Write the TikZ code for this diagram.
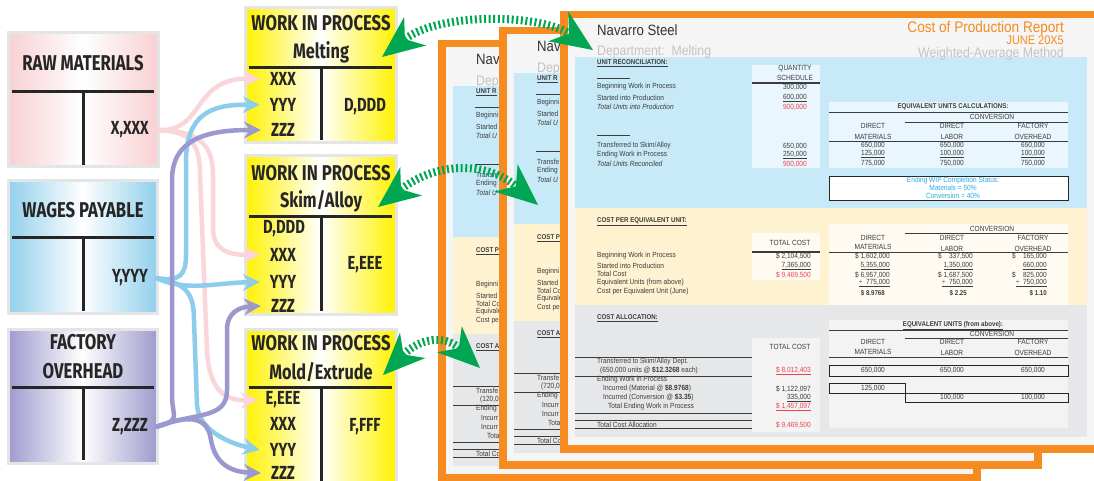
\documentclass[tikz,border=0pt]{standalone}
\usepackage{fontspec}
\setmainfont{Liberation Sans}
\newfontfamily\tfont{Fira Sans}[FakeStretch=0.78]
\newfontfamily\rfont{Liberation Sans}[FakeStretch=0.88]
\usetikzlibrary{arrows.meta}
\definecolor{rmpink}{RGB}{248,208,210}
\definecolor{rmline}{RGB}{250,214,218}
\definecolor{wpblue}{RGB}{146,208,236}
\definecolor{wpline}{RGB}{140,205,235}
\definecolor{fopurple}{RGB}{158,155,206}
\definecolor{foline}{RGB}{155,152,208}
\definecolor{wipyel}{RGB}{255,242,0}
\definecolor{boxedge}{RGB}{228,229,231}
\definecolor{grn}{RGB}{0,166,81}
\definecolor{org}{RGB}{246,139,31}
\definecolor{pagebg}{RGB}{245,245,245}
\definecolor{secblue}{RGB}{199,233,248}
\definecolor{seccream}{RGB}{255,242,208}
\definecolor{secgray}{RGB}{230,231,232}
\definecolor{colblue}{RGB}{234,246,253}
\definecolor{colcream}{RGB}{255,251,243}
\definecolor{colgray}{RGB}{243,243,243}
\definecolor{rtext}{RGB}{60,60,60}
\definecolor{rred}{RGB}{239,65,80}
\definecolor{rcyan}{RGB}{41,171,226}
\definecolor{hgray}{RGB}{195,195,195}
\tikzset{
  tline/.style={line width=3bp, draw=black!85},
  ttitle/.style={font=\tfont\bfseries\fontsize{21.5}{29}\selectfont, text=black!85, inner sep=0pt, align=center},
  tsub/.style={font=\tfont\bfseries\fontsize{21}{22}\selectfont, text=black!85, inner sep=0pt},
  tval/.style={font=\tfont\bfseries\fontsize{19}{20}\selectfont, text=black!85, inner sep=0pt},
  flow/.style={line width=4.5bp, -{Stealth[length=17bp,width=17bp,inset=6bp,line width=0pt]}},
  garrow/.style={draw=grn, line width=8bp, dash pattern=on 2bp off 2.6bp,
    {Stealth[length=42bp,width=36bp,inset=13bp,line width=0pt]}-{Stealth[length=42bp,width=36bp,inset=13bp,line width=0pt]}},
  rt/.style={font=\rfont\fontsize{7.5}{8}\selectfont, text=rtext, inner sep=0pt},
  rit/.style={font=\rfont\itshape\fontsize{7.5}{8}\selectfont},
  rbf/.style={font=\rfont\bfseries\fontsize{7}{8}\selectfont},
  lab/.style={rt, anchor=west},
  num/.style={rt, anchor=east},
  cen/.style={rt, anchor=center},
  rhead/.style={font=\rfont\fontsize{15}{16}\selectfont, inner sep=0pt},
  rsub/.style={font=\rfont\fontsize{14}{15}\selectfont, inner sep=0pt, text=hgray},
  rule/.style={draw=rtext, line width=0.9bp},
}
% #1 x, #2 y, #3 width
\newcommand\pageskel[3]{%
  \begin{scope}[shift={(#1,#2)}]
    \fill[org] (0,0) rectangle (#3,442);
    \fill[pagebg] (8,7) rectangle (#3-8,434);
    \fill[secblue] (15,46) rectangle (527,197);
    \fill[seccream] (15,197) rectangle (527,294);
    \fill[secgray] (15,294) rectangle (527,426);
    \draw[rule, line width=0.6bp] (37,67) -- (70,67) (37,124) -- (70,124);
    \draw[rule] (15,346) -- (192,346) (15,365) -- (192,365) (15,402) -- (192,402)
      (15,409) -- (192,409) (15,417) -- (192,417);
  \end{scope}}
\newcommand\stubs[3]{%
  \begin{scope}[shift={(#1,#2)}]
    \node[rhead, anchor=west, text=black!80] at (38,19) {Nav};
    \node[rsub, anchor=west] at (38,42) {Depa};
    \node[lab, rbf] at (38,52) {\underline{UNIT R}};
    \node[lab] at (38,76) {Beginni};
    \node[lab] at (38,87) {Started};
    \node[lab, rit] at (38,96) {Total U};
    \node[lab] at (38,135) {Transfe};
    \node[lab] at (38,144) {Ending};
    \node[lab, rit] at (38,153) {Total U};
    \node[lab, rbf] at (38,211) {\underline{COST P}};
    \node[lab] at (38,245) {Beginni};
    \node[lab] at (38,256) {Started};
    \node[lab] at (38,264) {Total Co};
    \node[lab] at (38,272) {Equivale};
    \node[lab] at (38,281) {Cost pe};
    \node[lab, rbf] at (38,307) {\underline{COST A}};
    \node[lab] at (38,351) {Transfe};
    \node[lab] at (42,360) {#3};
    \node[lab] at (38,369) {Ending};
    \node[lab] at (43,378) {Incurr};
    \node[lab] at (43,387) {Incurr};
    \node[lab] at (49,396) {Tota};
    \node[lab] at (38,414) {Total Co};
  \end{scope}}
\begin{document}
\begin{tikzpicture}[x=1bp, y=-1bp]
\useasboundingbox (0,0) rectangle (1094,481);
\clip (0,0) rectangle (1094,481);
\fill[white] (0,0) rectangle (1094,481);

% ---------- report pages ----------
\pageskel{438}{40}{543}
\stubs{438}{40}{(120,0}
\pageskel{499}{27}{543}
\stubs{499}{27}{(720,0}
\pageskel{560}{11}{570}

% page 3 header
\node[rhead, anchor=west, text=black!80] (p3name) at (597,30) {Navarro Steel};
\node[rsub, anchor=west] (p3dept) at (597,52) {Department:\ \ Melting};
\node[anchor=east, inner sep=0pt, text=org, font=\rfont\fontsize{15.5}{16}\selectfont] (p3title) at (1064,29) {Cost of Production Report};
\node[anchor=east, inner sep=0pt, text=org, font=\rfont\fontsize{12.5}{13}\selectfont] (p3date) at (1064,40.5) {JUNE 20X5};
\node[rsub, anchor=east] (p3meth) at (1064,54) {Weighted-Average Method};

% unit reconciliation
\fill[colblue] (752,65) rectangle (820,168);
\fill[colblue] (829,102) rectangle (1068,168);
\node[lab, rbf] at (597,63) {\underline{UNIT RECONCILIATION:}};
\draw[rule, line width=0.6bp] (597,78) -- (630,78) (597,135) -- (630,135);
\node[lab] at (597,87) {Beginning Work in Process};
\node[lab] at (597,98) {Started into Production};
\node[lab, rit] at (597,107) {Total Units into Production};
\node[lab] at (597,146) {Transferred to Skim/Alloy};
\node[lab] at (597,155) {Ending Work in Process};
\node[lab, rit] at (597,164) {Total Units Reconciled};
\node[cen] at (795,69) {QUANTITY};
\node[cen] at (795,78) {SCHEDULE};
\draw[rule, line width=1.3bp] (752,83) -- (820,83);
\node[num] at (807,87) {300,000};
\node[num] at (807,98) {\underline{600,000}};
\node[num, text=rred] at (807,107) {900,000};
\node[num] at (807,146) {650,000};
\node[num] at (807,155) {\underline{250,000}};
\node[num, text=rred] at (807,164) {900,000};
\node[cen, rbf] at (953,107) {EQUIVALENT UNITS CALCULATIONS:};
\draw[rule] (829,112) -- (1068,112) (905,122) -- (1068,122) (829,141) -- (1068,141);
\node[cen] at (992,117) {CONVERSION};
\node[cen] at (873,126) {DIRECT};
\node[cen] at (873,137) {MATERIALS};
\node[cen] at (952,126) {DIRECT};
\node[cen] at (952,137) {LABOR};
\node[cen] at (1033,126) {FACTORY};
\node[cen] at (1033,137) {OVERHEAD};
\node[cen] at (873,145) {650,000};
\node[cen] at (952,145) {650,000};
\node[cen] at (1033,145) {650,000};
\node[cen] at (873,154) {\underline{125,000}};
\node[cen] at (952,154) {\underline{100,000}};
\node[cen] at (1033,154) {\underline{100,000}};
\node[cen] at (873,163) {775,000};
\node[cen] at (952,163) {750,000};
\node[cen] at (1033,163) {750,000};
\draw[fill=white, line width=0.9bp, draw=black!85] (829,176) rectangle (1068,200);
\node[cen, text=rcyan] at (953,181) {Ending WIP Completion Status:};
\node[cen, text=rcyan] at (953,188) {Materials = 50\%};
\node[cen, text=rcyan] at (953,196) {Conversion = 40\%};

% cost per equivalent unit
\fill[colcream] (752,233) rectangle (820,280);
\fill[colcream] (829,224) rectangle (1068,305);
\node[lab, rbf] at (597,222) {\underline{COST PER EQUIVALENT UNIT:}};
\node[cen] at (790,243) {TOTAL COST};
\draw[rule, line width=1.3bp] (752,252) -- (820,252);
\node[lab] at (597,256) {Beginning Work in Process};
\node[lab] at (597,266) {Started into Production};
\node[lab] at (597,274) {Total Cost};
\node[lab] at (597,283) {Equivalent Units (from above)};
\node[lab] at (597,292) {Cost per Equivalent Unit (June)};
\node[num] at (811,256) {\$ 2,104,500};
\node[num] at (811,266) {\underline{7,365,000}};
\node[num, text=rred] at (811,275) {\$ 9,469,500};
\node[cen] at (992,229) {CONVERSION};
\draw[rule] (905,233) -- (1068,233) (829,252) -- (1068,252);
\node[cen] at (873,238) {DIRECT};
\node[cen] at (873,247) {MATERIALS};
\node[cen] at (952,238) {DIRECT};
\node[cen] at (952,249) {LABOR};
\node[cen] at (1033,238) {FACTORY};
\node[cen] at (1033,249) {OVERHEAD};
\node[num] at (890,256) {\$ 1,602,000};
\node[num] at (890,266) {\underline{5,355,000}};
\node[num] at (890,275) {\$ 6,957,000};
\node[num] at (890,283) {\underline{÷\ \ 775,000}};
\node[num, rbf] at (885,293) {\$ 8.9768};
\node[num] at (973,256) {\$\ \ \ \ 337,500};
\node[num] at (973,266) {\underline{1,350,000}};
\node[num] at (973,275) {\$ 1,687,500};
\node[num] at (973,283) {\underline{÷\ \ 750,000}};
\node[num, rbf] at (967,293) {\$ 2.25};
\node[num] at (1047,256) {\$\ \ \ \ 165,000};
\node[num] at (1047,266) {\underline{660,000}};
\node[num] at (1047,275) {\$\ \ \ \ 825,000};
\node[num] at (1047,283) {\underline{÷\ \ 750,000}};
\node[num, rbf] at (1047,293) {\$ 1.10};

% cost allocation
\fill[colgray] (752,338) rectangle (820,432);
\fill[colgray] (829,320) rectangle (1068,428);
\node[lab, rbf] at (597,318) {\underline{COST ALLOCATION:}};
\node[cen, rbf] at (953,326) {\underline{EQUIVALENT UNITS (from above):}};
\draw[rule] (829,330) -- (1068,330) (905,338) -- (1068,338) (829,357) -- (1068,357);
\node[cen] at (992,334) {CONVERSION};
\node[cen] at (873,342) {DIRECT};
\node[cen] at (873,352) {MATERIALS};
\node[cen] at (952,342) {DIRECT};
\node[cen] at (952,353) {LABOR};
\node[cen] at (1033,342) {FACTORY};
\node[cen] at (1033,353) {OVERHEAD};
\node[cen] at (790,347) {TOTAL COST};
\node[lab] at (597,362) {Transferred to Skim/Alloy Dept.};
\node[lab] at (600,371) {(650,000 units @ \textbf{\$12.3268} each)};
\node[lab] at (597,380) {Ending Work in Process};
\node[lab] at (603,389) {Incurred (Material @ \textbf{\$8.9768})};
\node[lab] at (603,398) {Incurred (Conversion @ \textbf{\$3.35})};
\node[lab] at (608,407) {Total Ending Work in Process};
\node[lab] at (597,425) {Total Cost Allocation};
\node[num, text=rred] at (811,371) {\underline{\$ 8,012,403}};
\node[num] at (811,389) {\$ 1,122,097};
\node[num] at (811,398) {\underline{335,000}};
\node[num, text=rred] at (811,407) {\underline{\$ 1,457,097}};
\node[num, text=rred] at (811,425) {\$ 9,469,500};
\draw[draw=black!85, line width=0.9bp] (829,365) rectangle (1068,376);
\node[cen] at (873,370) {650,000};
\node[cen] at (952,370) {650,000};
\node[cen] at (1033,370) {650,000};
\draw[draw=black!85, line width=0.9bp] (829,383) rectangle (905,393);
\draw[draw=black!85, line width=0.9bp] (905,393) rectangle (1068,402);
\node[cen] at (873,388) {125,000};
\node[cen] at (952,397) {100,000};
\node[cen] at (1033,397) {100,000};

% ---------- T-accounts ----------
\shadedraw[left color=rmpink, right color=rmpink, middle color=white, draw=boxedge, line width=3bp] (8,33) rectangle (158,167);
\node[ttitle] (rmT) at (83,63) {RAW MATERIALS};
\draw[tline] (12,92) -- (154,92) (83,92) -- (83,165);
\node[tval, anchor=east] (rmX) at (149,130) {X,XXX};

\shadedraw[left color=wpblue, right color=wpblue, middle color=white, draw=boxedge, line width=3bp] (8,181) rectangle (157,314);
\node[ttitle] (wpT) at (83,210) {WAGES PAYABLE};
\draw[tline] (12,238) -- (154,238) (83,238) -- (83,311);
\node[tval, anchor=east] (wpY) at (148,278) {Y,YYY};

\shadedraw[left color=fopurple, right color=fopurple, middle color=white, draw=boxedge, line width=3bp] (8,330) rectangle (157,463);
\node[ttitle] (foT) at (83,357) {FACTORY\\OVERHEAD};
\draw[tline] (12,387) -- (154,387) (83,387) -- (83,460);
\node[tval, anchor=east] (foZ) at (148,427) {Z,ZZZ};

% WIP Melting
\shadedraw[left color=wipyel, right color=wipyel, middle color=white, draw=boxedge, line width=3bp] (245,8) rectangle (396,143);
\node[ttitle] (m1) at (321,23) {WORK IN PROCESS};
\node[tsub] (m2) at (321,52) {Melting};
\draw[tline] (249,68) -- (392,68) (321,68) -- (321,140);
\node[tval] (mX) at (283,79) {XXX};
\node[tval] (mY) at (283,105) {YYY};
\node[tval] (mZ) at (283,130) {ZZZ};
\node[tval] (mD) at (365,107) {D,DDD};

% WIP Skim/Alloy
\shadedraw[left color=wipyel, right color=wipyel, middle color=white, draw=boxedge, line width=3bp] (245,156) rectangle (396,315);
\node[ttitle] (s1) at (321,173) {WORK IN PROCESS};
\node[tsub] (s2) at (321,201) {Skim/Alloy};
\draw[tline] (249,217) -- (392,217) (321,217) -- (321,311);
\node[tval] (sD) at (284,229) {D,DDD};
\node[tval] (sX) at (283,255) {XXX};
\node[tval] (sY) at (283,282) {YYY};
\node[tval] (sZ) at (283,306) {ZZZ};
\node[tval] (sE) at (365,265) {E,EEE};

% WIP Mold/Extrude
\shadedraw[left color=wipyel, right color=wipyel, middle color=white, draw=boxedge, line width=3bp] (245,330) rectangle (396,500);
\node[ttitle] (o1) at (321,343) {WORK IN PROCESS};
\node[tsub] (o2) at (321,372) {Mold/Extrude};
\draw[tline] (249,387) -- (392,387) (321,387) -- (321,495);
\node[tval] (oE) at (283,400) {E,EEE};
\node[tval] (oX) at (283,424) {XXX};
\node[tval] (oY) at (283,450) {YYY};
\node[tval] (oZ) at (283,473) {ZZZ};
\node[tval] (oF) at (365,427) {F,FFF};

% ---------- flows ----------
\draw[flow, rmline] ([xshift=8bp]rmX.east) .. controls (205,133) and (192,77) .. ([xshift=-10bp]mX.west);
\draw[flow, rmline] ([xshift=8bp]rmX.east) .. controls (200,131) and (213,145) .. (213,175) -- (213,228) .. controls (213,250) and (228,255) .. ([xshift=-10bp]sX.west);
\draw[flow, rmline] ([xshift=8bp]rmX.east) .. controls (192,131) and (200,145) .. (200,175) -- (207,350) .. controls (209,390) and (225,401) .. ([xshift=-8bp]oE.west);

\draw[flow, wpline] ([xshift=8bp]wpY.east) .. controls (180,282) and (186,275) .. (186,255) -- (186,160) .. controls (187,115) and (210,104) .. ([xshift=-10bp]mY.west);
\draw[flow, wpline] ([xshift=8bp]wpY.east) .. controls (188,292) and (212,283) .. ([xshift=-10bp]sY.west);
\draw[flow, wpline] ([xshift=8bp]wpY.east) .. controls (185,283) and (194,292) .. (194,320) -- (197,405) .. controls (199,430) and (228,443) .. ([xshift=-10bp]oY.west);

\draw[flow, foline] ([xshift=8bp]foZ.east) .. controls (182,420) and (172,418) .. (172,395) -- (172,180) .. controls (172,140) and (205,130) .. ([xshift=-10bp]mZ.west);
\draw[flow, foline] ([xshift=8bp]foZ.east) .. controls (195,412) and (227,420) .. (227,390) -- (227,330) .. controls (227,312) and (240,307) .. ([xshift=-10bp]sZ.west);
\draw[flow, foline] ([xshift=8bp]foZ.east) .. controls (195,412) and (208,420) .. (211,440) .. controls (215,463) and (230,472) .. ([xshift=-10bp]oZ.west);

% ---------- green links ----------
\coordinate (gM1) at (382,57);
\coordinate (gM2) at (593,50);
\coordinate (gS1) at (378,207);
\coordinate (gS2) at (538,205);
\coordinate (gO1) at (383,375);
\coordinate (gO2) at (480,368);
\draw[garrow] (gM1) .. controls (440,12) and (540,14) .. (gM2);
\draw[garrow] (gS1) .. controls (435,163) and (485,160) .. (gS2);
\draw[garrow] (gO1) .. controls (420,338) and (445,335) .. (gO2);
\end{tikzpicture}
\end{document}
